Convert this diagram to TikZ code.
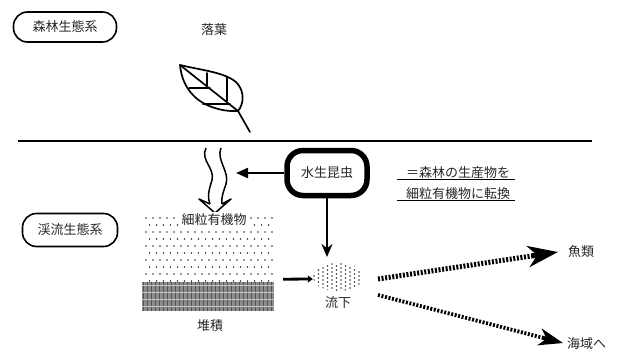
\documentclass[tikz,border=0pt]{standalone}
\usepackage{fontspec}
\newfontfamily\jp{Noto Sans CJK JP}
\usetikzlibrary{arrows.meta,calc,shapes.geometric}
\begin{document}
\begin{tikzpicture}[x=1pt,y=-1pt,
  lbl/.style={font=\jp\fontsize{13}{15}\selectfont, inner sep=1pt, text=black!85},
  eco/.style={draw, line width=1.6pt, rounded corners=14pt, minimum height=30pt, lbl},
  ink/.style={line width=1.7pt, line join=round, line cap=round},
  dotfill/.style={fill=black!80},
  flowline/.style={line width=2.2pt},
  drifting/.style={line cap=butt, dash pattern=on 2pt off 1.6pt},
]
\useasboundingbox (0,0) rectangle (618,351);

% ground line between forest and stream
\coordinate (gl) at (18,141);
\coordinate (gr) at (592,141);
\draw[line width=1.6pt] (gl) -- (gr);

% ecosystem labels
\node[eco, minimum width=103pt] (forest) at (65,27) {森林生態系};
\node[eco, minimum width=95pt, minimum height=33pt] (stream) at (70,230) {渓流生態系};

% leaf litter
\node[lbl] (litter) at (214,30) {落葉};
\draw[ink] (180,65) .. controls (200,70) and (224,72) .. (236,82)
  .. controls (245,91) and (244,104) .. (238,111)
  .. controls (222,112) and (203,106) .. (193,95)
  .. controls (185,87) and (181,76) .. (180,65);
\draw[ink] (180,65) -- (238,111) -- (250,132);
\draw[ink] (227,77) -- (227,101);
\draw[ink] (207,73) -- (207,86);
\draw[ink] (189,88) -- (210,88);
\draw[ink] (203,104) -- (230,104);

% decomposition path: wavy double stroke with hollow head
\draw[line width=1.5pt, line join=round]
  (206,148) .. controls (200,160) and (215,168) .. (212,180)
  .. controls (209,190) and (207,196) .. (210,204);
\draw[line width=1.5pt, line join=round]
  (221,148) .. controls (216,160) and (230,172) .. (226,184)
  .. controls (223,193) and (221,198) .. (222,204);
\draw[line width=1.5pt, line join=round]
  (210,204) -- (199,199) -- (215,213) -- (231,199) -- (222,204);

% aquatic insects
\node[draw, line width=5.5pt, rounded corners=16pt, minimum width=80pt,
      minimum height=45pt, lbl] (insect) at (327,173) {水生昆虫};
\coordinate (toFPOM) at (236,173);
\draw[flowline, -{Triangle[length=12pt,width=10pt]}] (insect.west) -- (toFPOM);
\coordinate (droptip) at (327,257);
\draw[flowline, -{Stealth[length=13pt,width=11pt]}] (insect.south) -- (droptip);

% note on conversion
\node[lbl] (note1) at (458,173) {＝森林の生産物を};
\node[lbl] (note2) at (458,194) {細粒有機物に転換};
\draw[line width=1.1pt] ($(note1.south west)+(-8,-1)$) -- ($(note1.south east)+(4,-1)$);
\draw[line width=1.1pt] ($(note2.south west)+(-8,-1)$) -- ($(note2.south east)+(4,-1)$);

% fine particulate organic matter (dotted) over sediment (grey)
\node[minimum width=132pt, minimum height=68pt, inner sep=0] (fpom) at (208,248) {};
\foreach \j in {0,...,9}{
  \foreach \i in {0,...,18}{
    \pgfmathsetmacro{\xx}{146+\i*7+mod(\j,2)*3.5}
    \ifdim\xx pt<274pt
      \fill[dotfill] (\xx,{218+\j*7}) circle (0.9pt);
    \fi
  }
}
\node[lbl, fill=white, inner sep=2pt] (fpomlabel) at (214,220) {細粒有機物};

\node[minimum width=132pt, minimum height=29pt, inner sep=0, fill=black!45] (sed) at (208,296.5) {};
\foreach \i in {0,...,32}
  \draw[black!68, line width=1pt] ({143.5+\i*4},282) -- ({143.5+\i*4},311);
\foreach \j in {0,...,3}
  \draw[black!22, line width=0.6pt] (142,{285+\j*7}) -- (274,{285+\j*7});
\node[lbl] (sedlabel) at (210,326) {堆積};

% drifting particles
\node[ellipse, minimum width=50pt, minimum height=29pt, inner sep=0] (drift) at (338,277) {};
\begin{scope}
  \clip (338,277) ellipse [x radius=25pt, y radius=14pt];
  \foreach \i in {0,...,11}{
    \foreach \j in {0,...,7}{
      \fill[dotfill] ({314+\i*4.5},{264+\j*4+mod(\i,2)*2}) circle (0.8pt);
    }
  }
\end{scope}
\node[lbl] (driftlabel) at (338,303) {流下};
\draw[line width=2.8pt, -{Triangle[length=5pt,width=7pt]}]
  ($(fpom.south east)+(9,-3)$) -- (drift.west |- 0,279);

% exports: dotted shafts with solid heads
\coordinate (upstart) at (378,279);
\coordinate (upend) at (558,252);
\coordinate (lowstart) at (378,295);
\coordinate (lowend) at (563,343);
\node[lbl, anchor=west] (fish) at (567,252) {魚類};
\node[lbl, anchor=west] (sea) at (566,344) {海域へ};
\draw[drifting, line width=5pt] (upstart) -- ($(upend)!24pt!(upstart)$);
\draw[line width=5pt, -{Stealth[length=30pt,width=21pt,inset=9pt]}]
  ($(upend)!26pt!(upstart)$) -- (upend);
\draw[drifting, line width=3.8pt] (lowstart) -- ($(lowend)!19pt!(lowstart)$);
\draw[line width=3.8pt, -{Stealth[length=24pt,width=17pt,inset=7pt]}]
  ($(lowend)!21pt!(lowstart)$) -- (lowend);
\end{tikzpicture}
\end{document}
